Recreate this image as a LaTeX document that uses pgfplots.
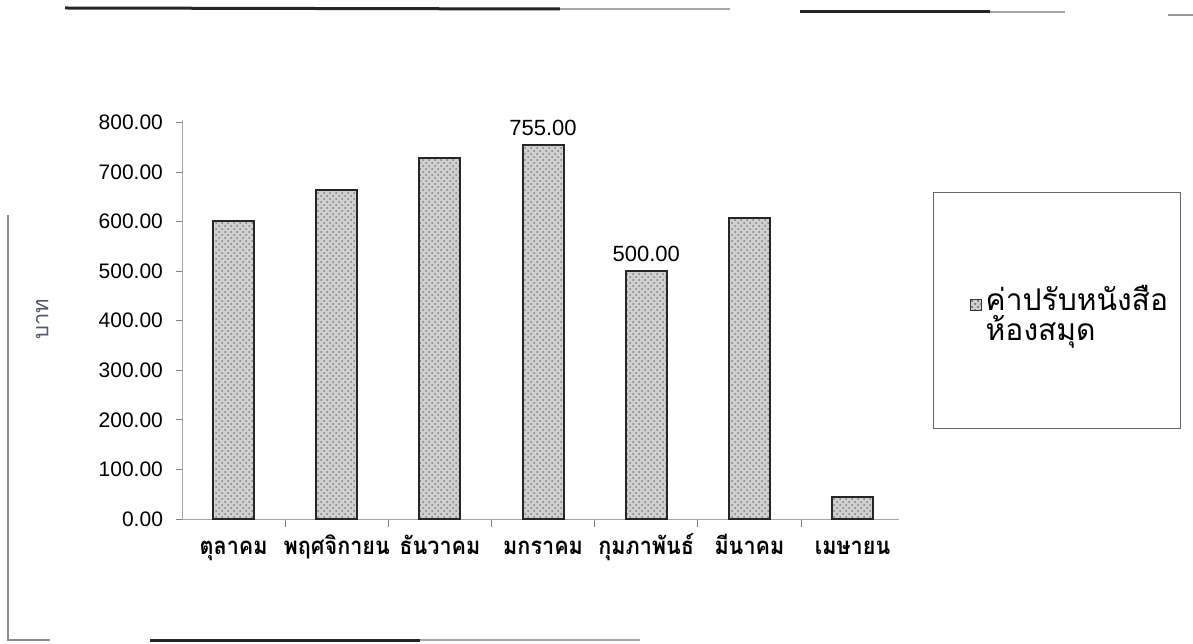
\documentclass[border=0pt]{standalone}
\usepackage{pgfplots}
\pgfplotsset{compat=1.18}
\usepackage{fontspec}
\setmainfont{Liberation Sans}
\newfontfamily\thaifont[Script=Thai]{Loma}
\newfontfamily\thaicond[Script=Thai,FakeStretch=0.9]{Loma}
\usetikzlibrary{patterns}

% fines per month (baht)
\pgfplotstableread{
idx value
0 602
1 664
2 729
3 755
4 500
5 608
6 45
}\finetable

\definecolor{barfill}{RGB}{208,208,208}
\definecolor{labelblue}{RGB}{80,88,110}

\begin{document}
\begin{tikzpicture}
\path[use as bounding box] (0,0) rectangle (596.5pt,321.5pt);

% scanned page rules
\begin{scope}[x=0.5pt,y=-0.5pt,yshift=321.5pt]
  \draw[line width=1.5pt,black!85] (65,8) -- (560,9);
  \draw[line width=1.2pt,black!35] (560,9) -- (730,9);
  \draw[line width=1.5pt,black!85] (800,12) -- (990,12);
  \draw[line width=1.2pt,black!35] (990,12) -- (1065,12);
  \draw[line width=1pt,black!40] (1168,15) -- (1193,15);
  \draw[line width=1.5pt,black!85] (150,640) -- (420,640);
  \draw[line width=1.2pt,black!35] (420,640) -- (640,640);
  \draw[line width=0.6pt,black!45] (8,215) -- (8,640) -- (50,640);
\end{scope}

\begin{axis}[
    at={(91pt,62pt)}, anchor=south west,
    scale only axis,
    width=358.5pt, height=199.5pt,
    xmin=-0.5, xmax=6.45,
    ymin=0, ymax=805,
    axis x line*=bottom, axis y line*=left,
    axis line style={black!35,-},
    tick align=outside,
    xtick={0,...,6},
    xticklabels={ตุลาคม,พฤศจิกายน,ธันวาคม,มกราคม,กุมภาพันธ์,มีนาคม,เมษายน},
    major x tick style={draw=none},
    minor xtick={0.5,1.5,...,5.5},
    minor tick length=4pt,
    major tick length=3pt,
    every tick/.style={black!50},
    x tick label style={font=\thaicond\bfseries\fontsize{12}{14}\selectfont,
        text height=8pt, text depth=3pt, yshift=-3pt},
    ytick={0,100,...,800},
    scaled y ticks=false,
    y tick label style={font=\fontsize{10.5}{12}\selectfont, xshift=-3pt,
        /pgf/number format/.cd, fixed, fixed zerofill, precision=2, assume math mode=true},
    ylabel={\thaifont บาท},
    ylabel style={at={(axis description cs:-0.195,0.5)}, anchor=center,
        font=\fontsize{11}{13}\selectfont, text=labelblue},
    legend style={at={(axis description cs:1.047,0.5226)}, anchor=west,
        draw=black!60, inner xsep=4pt, inner ysep=44.25pt,
        font=\thaifont\fontsize{15}{13}\selectfont,
        cells={anchor=base west}},
    legend image code/.code={
        \path (-14pt,-14pt);
        \draw[fill=barfill,draw=black!80,line width=0.6pt,
              postaction={pattern=crosshatch dots,pattern color=black!55}]
              (0pt,0pt) rectangle (5.5pt,5.5pt);},
]
\addplot[ybar, bar width=20.5pt, bar shift=0pt, fill=barfill, draw=black!85, line width=1pt,
    postaction={pattern=crosshatch dots, pattern color=black!50}]
    table[x=idx, y=value] {\finetable};
\addlegendentry{\begin{tabular}[t]{@{}l@{}}ค่าปรับหนังสือ\\[-1.5pt]ห้องสมุด\end{tabular}}

\addplot[draw=none, forget plot, point meta=y,
    nodes near coords={\pgfmathprintnumber[fixed,fixed zerofill,precision=2,assume math mode=true]{\pgfplotspointmeta}},
    every node near coord/.append style={font=\fontsize{11}{13}\selectfont, yshift=1pt}]
    coordinates {(3,755) (4,500)};
\end{axis}
\end{tikzpicture}
\end{document}
